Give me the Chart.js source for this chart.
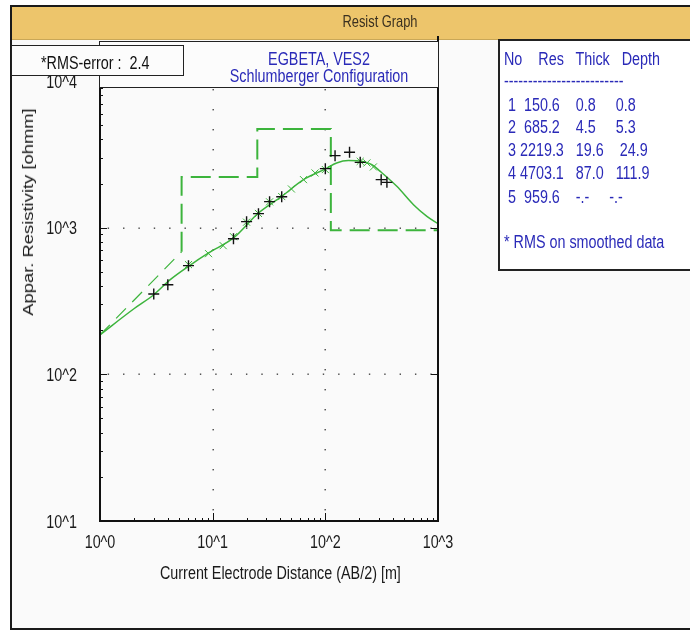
<!DOCTYPE html>
<html>
<head>
<meta charset="utf-8">
<script src="https://cdn.jsdelivr.net/npm/chart.js@4.4.1/dist/chart.umd.min.js"></script>
<style>
  body { margin:0; width:690px; height:631px; position:relative; overflow:hidden; background:#fff;
         font-family:"Liberation Sans",Arial,sans-serif; font-size:17.5px; }
  .abs { position:absolute; white-space:pre; line-height:20px; }
  .n { transform:scaleX(0.82); transform-origin:0 50%; }
  .nc { transform:scaleX(0.82); transform-origin:50% 50%; }
  #frame { position:absolute; left:10px; top:5px; width:680px; height:625px; box-sizing:border-box;
           border:2px solid #1a1a1a; border-right:none; background:#fafafa; }
  #bar { position:absolute; left:12px; top:7px; width:678px; height:33px; background:#edc56b;
         border-bottom:1px solid #c9a757; box-sizing:border-box; }
  #chart { position:absolute; left:0; top:0; z-index:1; }
  .box { position:absolute; background:#fcfcfc; border:1.5px solid #222; box-sizing:border-box; z-index:2; }
  .txt { z-index:3; }
  .blue { color:#2a2ab8; }
</style>
</head>
<body>
<div id="frame"></div>
<div id="bar"></div>
<div class="abs txt nc" id="barTitle" style="left:280px;width:200px;top:12px;text-align:center;color:#3a3020;font-size:15.7px;">Resist Graph</div>

<canvas id="chart" width="690" height="631"></canvas>

<div class="box" style="left:99px;top:41px;width:340px;height:47px;"></div>
<div class="abs txt blue nc" id="title1" style="left:200px;width:238px;top:49px;text-align:center;"></div>
<div class="abs txt blue nc" id="title2" style="left:200px;width:238px;top:66px;text-align:center;"></div>

<div class="box" style="left:11px;top:45px;width:173px;height:31px;"></div>
<div class="abs txt n" id="rms" style="left:41px;top:53px;color:#111;"></div>

<div class="box" style="left:498px;top:39px;width:200px;height:232px;background:#fff;border-width:2px;"></div>
<div class="abs txt blue" id="table" style="left:504px;top:0;width:200px;height:300px;transform:scaleX(0.82);transform-origin:0 0;"></div>

<div class="abs txt n" id="xTitle" style="left:160px;top:563px;color:#1a1a1a;">Current Electrode Distance (AB/2) [m]</div>
<div class="abs txt" id="yTitle" style="left:28px;top:212px;color:#1a1a1a;font-size:18.4px;
     transform:translate(-50%,-50%) rotate(-90deg) scaleY(0.82);">Appar. Resistivity [ohmm]</div>

<script>
// observed field data (+)
const obsAB  = [3, 4, 6.1, 15.3, 20, 25.5, 32, 41, 100, 122, 164, 204, 313, 352];
const obsRho = [353, 408, 551, 841, 1099, 1246, 1504, 1626, 2525, 3098, 3264, 2788, 2125, 2037];

// smoothed data (x)
const smAB  = [6.1, 9.2, 12.4, 15.3, 20, 25.5, 32, 41, 50, 64, 81, 100, 204, 234, 267];
const smRho = [560, 665, 754, 868, 1090, 1250, 1500, 1630, 1836, 2126, 2361, 2490, 2833, 2763, 2594];

// model response curve
const modelAB  = [1, 2, 3, 4.2, 6.1, 9.2, 15.3, 25.5, 41, 64, 100, 126, 160, 190, 259, 307, 431, 606, 797, 1000];
const modelRho = [186, 280, 349, 442, 545, 672, 851, 1259, 1635, 2126, 2514, 2763, 2870, 2864, 2692, 2421, 1914, 1435, 1195, 1065];

// layered model (dashed steps)
const stepAB  = [1, 5.3, 5.3, 24.9, 24.9, 111.9, 111.9, 1000];
const stepRho = [186, 685.2, 2219.3, 2219.3, 4703.1, 4703.1, 959.6, 959.6];

// layer table
const layerNo    = [1, 2, 3, 4, 5];
const layerRes   = ['150.6', '685.2', '2219.3', '4703.1', '959.6'];
const layerThick = ['0.8', '4.5', '19.6', '87.0', '-.-'];
const layerDepth = ['0.8', '5.3', '24.9', '111.9', '-.-'];

const titleLines = ['EGBETA, VES2', 'Schlumberger Configuration'];
const rmsError = '2.4';
const xGrid = [10, 100];
const yGrid = [100, 1000];

const green = '#3cb43c';
const FONT = '"Liberation Sans",Arial,sans-serif';

document.getElementById('title1').textContent = titleLines[0];
document.getElementById('title2').textContent = titleLines[1];
document.getElementById('rms').textContent = '*RMS-error :  ' + rmsError;

// table text
const rows = ['No    Res   Thick   Depth', '-------------------------'];
layerNo.forEach((n, i) => {
  rows.push(' ' + n + ' ' + layerRes[i].padStart(6) + '   ' + layerThick[i].padStart(4) + '   ' + layerDepth[i].padStart(5));
});
rows.push('* RMS on smoothed data');
const tbl = document.getElementById('table');
const tops = [49, 71, 95, 117, 140, 163, 187, 232];
rows.forEach((r, i) => {
  const d = document.createElement('div');
  d.className = 'abs';
  d.style.top = tops[i] + 'px';
  d.style.left = '0px';
  d.textContent = r;
  tbl.appendChild(d);
});

const decadeTicks = (min, max) => {
  const t = [];
  for (let e = Math.log10(min); e < Math.log10(max); e++)
    for (let m = 1; m < 10; m++) t.push({ value: m * Math.pow(10, e), major: m === 1 });
  t.push({ value: max, major: true });
  return t;
};
const isMajor = v => Math.abs(Math.log10(v) - Math.round(Math.log10(v))) < 1e-9;
const tickLabel = v => isMajor(v) ? '10^' + Math.round(Math.log10(v)) : '';

const framePlugin = {
  id: 'framePlugin',
  beforeDatasetsDraw(chart) {
    const { ctx, chartArea: a, scales: { x, y } } = chart;
    ctx.save();
    ctx.fillStyle = '#444';
    xGrid.forEach(v => {
      const px = Math.round(x.getPixelForValue(v));
      const step = (a.bottom - a.top) / 22;
      for (let i = 0; i < 22; i++) ctx.fillRect(px - 0.5, a.top + step * (i + 0.4), 1.4, 1.4);
    });
    yGrid.forEach(v => {
      const py = Math.round(y.getPixelForValue(v));
      const step = (a.right - a.left) / 22;
      for (let i = 0; i < 22; i++) ctx.fillRect(a.left + step * (i + 0.5), py - 0.5, 1.4, 1.4);
    });
    ctx.restore();
  },
  afterDatasetsDraw(chart) {
    const { ctx, chartArea: a, scales: { x, y } } = chart;
    ctx.save();
    ctx.strokeStyle = '#111';
    ctx.lineWidth = 1;
    ctx.beginPath();
    y.ticks.forEach(t => {
      const py = Math.round(y.getPixelForValue(t.value)) + 0.5;
      const len = isMajor(t.value) ? 7 : 3;
      ctx.moveTo(a.left, py); ctx.lineTo(a.left + len, py);
      if (isMajor(t.value)) { ctx.moveTo(a.right, py); ctx.lineTo(a.right - 7, py); }
    });
    x.ticks.forEach(t => {
      const px = Math.round(x.getPixelForValue(t.value)) + 0.5;
      const len = isMajor(t.value) ? 8 : 3;
      ctx.moveTo(px, a.bottom); ctx.lineTo(px, a.bottom - len);
    });
    ctx.stroke();
    ctx.lineWidth = 2;
    ctx.beginPath();
    ctx.moveTo(a.left, a.top - 10); ctx.lineTo(a.left, a.bottom); ctx.lineTo(a.right, a.bottom); ctx.lineTo(a.right, a.top - 45);
    ctx.stroke();

    // tick labels, horizontally condensed like the original
    ctx.fillStyle = '#1a1a1a';
    ctx.font = '17.5px ' + FONT;
    ctx.textBaseline = 'middle';
    y.ticks.filter(t => isMajor(t.value)).forEach(t => {
      ctx.save();
      ctx.translate(a.left - 23, y.getPixelForValue(t.value) + 2);
      ctx.scale(0.82, 1);
      ctx.textAlign = 'right';
      ctx.fillText(tickLabel(t.value), 0, 0);
      ctx.restore();
    });
    x.ticks.filter(t => isMajor(t.value)).forEach(t => {
      ctx.save();
      ctx.translate(x.getPixelForValue(t.value), a.bottom + 22);
      ctx.scale(0.82, 1);
      ctx.textAlign = 'center';
      ctx.fillText(tickLabel(t.value), 0, 0);
      ctx.restore();
    });
    ctx.restore();
  }
};

const toXY = (xs, ys) => xs.map((v, i) => ({ x: v, y: ys[i] }));

new Chart(document.getElementById('chart'), {
  type: 'scatter',
  data: {
    datasets: [
      { label: 'Observed', data: toXY(obsAB, obsRho), pointStyle: 'cross', pointRadius: 5.5,
        borderColor: '#111', borderWidth: 1.4, showLine: false, order: 0 },
      { label: 'Smoothed', data: toXY(smAB, smRho), pointStyle: 'crossRot', pointRadius: 5,
        borderColor: green, borderWidth: 1, showLine: false, order: 1 },
      { label: 'Model', data: toXY(modelAB, modelRho), showLine: true, pointRadius: 0,
        borderColor: green, borderWidth: 1.5, cubicInterpolationMode: 'monotone', order: 2 },
      { label: 'Layers', data: toXY(stepAB, stepRho), showLine: true, pointRadius: 0,
        borderColor: green, borderWidth: 2, borderDash: [20, 8], tension: 0, order: 3,
        segment: {
          borderWidth: c => c.p0DataIndex === 0 ? 1.2 : 2,
          borderDash: c => c.p0DataIndex === 0 ? [14, 9] : [20, 8]
        } }
    ]
  },
  options: {
    responsive: false,
    animation: false,
    events: [],
    layout: { padding: { top: 81, right: 252, left: 0, bottom: 0 } },
    plugins: { legend: { display: false }, tooltip: { enabled: false } },
    scales: {
      x: {
        type: 'logarithmic', min: 1, max: 1000,
        grid: { display: false, drawTicks: false }, border: { display: false },
        afterBuildTicks: s => { s.ticks = decadeTicks(1, 1000); },
        afterFit: s => { s.height = 110; },
        ticks: { display: false, autoSkip: false, callback: tickLabel }
      },
      y: {
        type: 'logarithmic', min: 10, max: 10000,
        grid: { display: false, drawTicks: false }, border: { display: false },
        afterBuildTicks: s => { s.ticks = decadeTicks(10, 10000); },
        afterFit: s => { s.width = 100; },
        ticks: { display: false, autoSkip: false, callback: tickLabel }
      }
    }
  },
  plugins: [framePlugin]
});
</script>
</body>
</html>
